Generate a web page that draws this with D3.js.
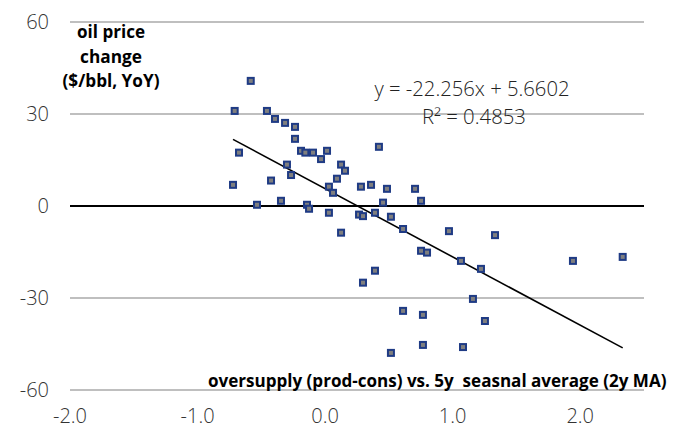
<!DOCTYPE html>
<html>
<head>
<meta charset="UTF-8">
<title>Oil price change vs oversupply</title>
<style>
  body { margin: 0; background: #fff; }
  svg text { font-family: "Open Sans", Lato, sans-serif; }
</style>
<script src="https://d3js.org/d3.v7.min.js"></script>
</head>
<body>
<div id="chart"></div>
<script>
// oversupply (x, mb/d) vs oil price change (y, $/bbl YoY)
const oversupply = [
  -0.583, -0.709, -0.456, -0.393, -0.314, -0.236, -0.236, -0.675, -0.189, -0.155,
  -0.095, 0.015, -0.032, 0.125, 0.156, -0.299, -0.267, -0.722, -0.424, 0.093,
  0.030, 0.062, 0.281, 0.360, -0.534, -0.346, -0.142, -0.126, 0.030, 0.266,
  0.297, 0.422, 0.485, 0.705, 0.454, 0.752, 0.391, 0.516, 0.611, 0.125,
  0.752, 0.799, 0.391, 0.297, 0.971, 1.332, 1.065, 1.222, 1.159, 0.611,
  0.767, 1.253, 0.767, 1.081, 0.516, 1.943, 2.333
];
const priceChange = [
  40.8, 31.0, 31.0, 28.4, 27.1, 25.8, 21.9, 17.4, 18.0, 17.4,
  17.4, 18.0, 15.3, 13.5, 11.5, 13.5, 10.1, 6.9, 8.3, 8.9,
  6.3, 4.3, 6.3, 6.9, 0.4, 1.7, 0.4, -0.9, -2.2, -2.8,
  -3.3, 19.3, 5.6, 5.6, 1.1, 1.7, -2.2, -3.5, -7.5, -8.7,
  -14.6, -15.2, -21.1, -25.0, -8.2, -9.5, -17.9, -20.5, -30.3, -34.2,
  -35.5, -37.5, -45.3, -46.0, -47.9, -17.9, -16.6
];
const xTicks = [-2, -1, 0, 1, 2];
const yTicks = [-60, -30, 0, 30, 60];
const slope = -22.256, intercept = 5.6602;
const equationLabel = "y = -22.256x + 5.6602";
const r2Label = "R\u00b2 = 0.4853";
const yTitle = ["oil price", "change", "($/bbl, YoY)"];
const xTitle = "oversupply (prod-cons) vs. 5y  seasnal average (2y MA)";

const W = 683, H = 432;
const svg = d3.select("#chart").append("svg")
  .attr("width", W).attr("height", H);

const x = d3.scaleLinear().domain([-2, 2.5]).range([70, 644]);
const y = d3.scaleLinear().domain([-60, 60]).range([390, 22]);

// squeeze a text horizontally so it spans `w` px (condensed look)
function fitText(g, str, w, anchor) {
  const t = g.append("text").attr("text-anchor", anchor).text(str);
  return t;
}
function squeeze(t, px, py, w, anchor) {
  const len = t.node().getComputedTextLength();
  const s = w / len;
  t.attr("text-anchor", anchor)
   .attr("transform", `translate(${px},${py}) scale(${s},1)`);
}

// gridlines
svg.append("g").selectAll("line")
  .data(yTicks.filter(d => d !== 0))
  .enter().append("line")
  .attr("x1", x(-2)).attr("x2", x(2.5))
  .attr("y1", d => y(d)).attr("y2", d => y(d))
  .attr("stroke", "#bfbfbf").attr("stroke-width", 2);

// zero line
svg.append("line")
  .attr("x1", x(-2)).attr("x2", x(2.5))
  .attr("y1", y(0)).attr("y2", y(0))
  .attr("stroke", "#000").attr("stroke-width", 1.8);

// tick labels
svg.append("g").selectAll("text")
  .data(yTicks).enter().append("text")
  .attr("x", 49).attr("y", d => y(d)).attr("dy", "0.36em")
  .attr("text-anchor", "end")
  .style("font-size", "20px").style("font-weight", 300)
  .attr("fill", "#333")
  .text(d => d);

svg.append("g").selectAll("text")
  .data(xTicks).enter().append("text")
  .attr("x", d => x(d)).attr("y", 423)
  .attr("text-anchor", "middle")
  .style("font-size", "20px").style("font-weight", 300)
  .attr("fill", "#333")
  .text(d => d3.format(".1f")(d).replace("\u2212", "-"));

// titles
const yLines = [{t: yTitle[0], yy: 38, w: 68}, {t: yTitle[1], yy: 63, w: 62}, {t: yTitle[2], yy: 87, w: 97}];
yLines.forEach(l => {
  const t = svg.append("text")
    .style("font-size", "17px").style("font-weight", 700)
    .attr("fill", "#000")
    .text(l.t);
  squeeze(t, 111, l.yy, l.w, "middle");
});

const xt = svg.append("text")
  .style("font-size", "18px").style("font-weight", 700)
  .style("white-space", "pre")
  .attr("fill", "#000")
  .text(xTitle);
squeeze(xt, 208, 387, 459, "start");

// trendline
const xr = d3.extent(oversupply);
svg.append("line")
  .attr("x1", x(xr[0])).attr("y1", y(slope * xr[0] + intercept))
  .attr("x2", x(xr[1])).attr("y2", y(slope * xr[1] + intercept))
  .attr("stroke", "#000").attr("stroke-width", 1.6);

// points
const pts = oversupply.map((v, i) => ({x: v, y: priceChange[i]}));
svg.append("g").selectAll("rect")
  .data(pts).enter().append("rect")
  .attr("x", d => x(d.x) - 3).attr("y", d => y(d.y) - 3)
  .attr("width", 6).attr("height", 6)
  .attr("fill", "#7f7f7f")
  .attr("stroke", "#1f3b85").attr("stroke-width", 2);

// equation
const eq = svg.append("text")
  .style("font-size", "20px").style("font-weight", 300)
  .attr("fill", "#222")
  .text(equationLabel);
squeeze(eq, 472, 96, 195, "middle");
const r2 = svg.append("text")
  .style("font-size", "20px").style("font-weight", 300)
  .attr("fill", "#222")
  .text(r2Label);
squeeze(r2, 474, 124, 104, "middle");
</script>
</body>
</html>
